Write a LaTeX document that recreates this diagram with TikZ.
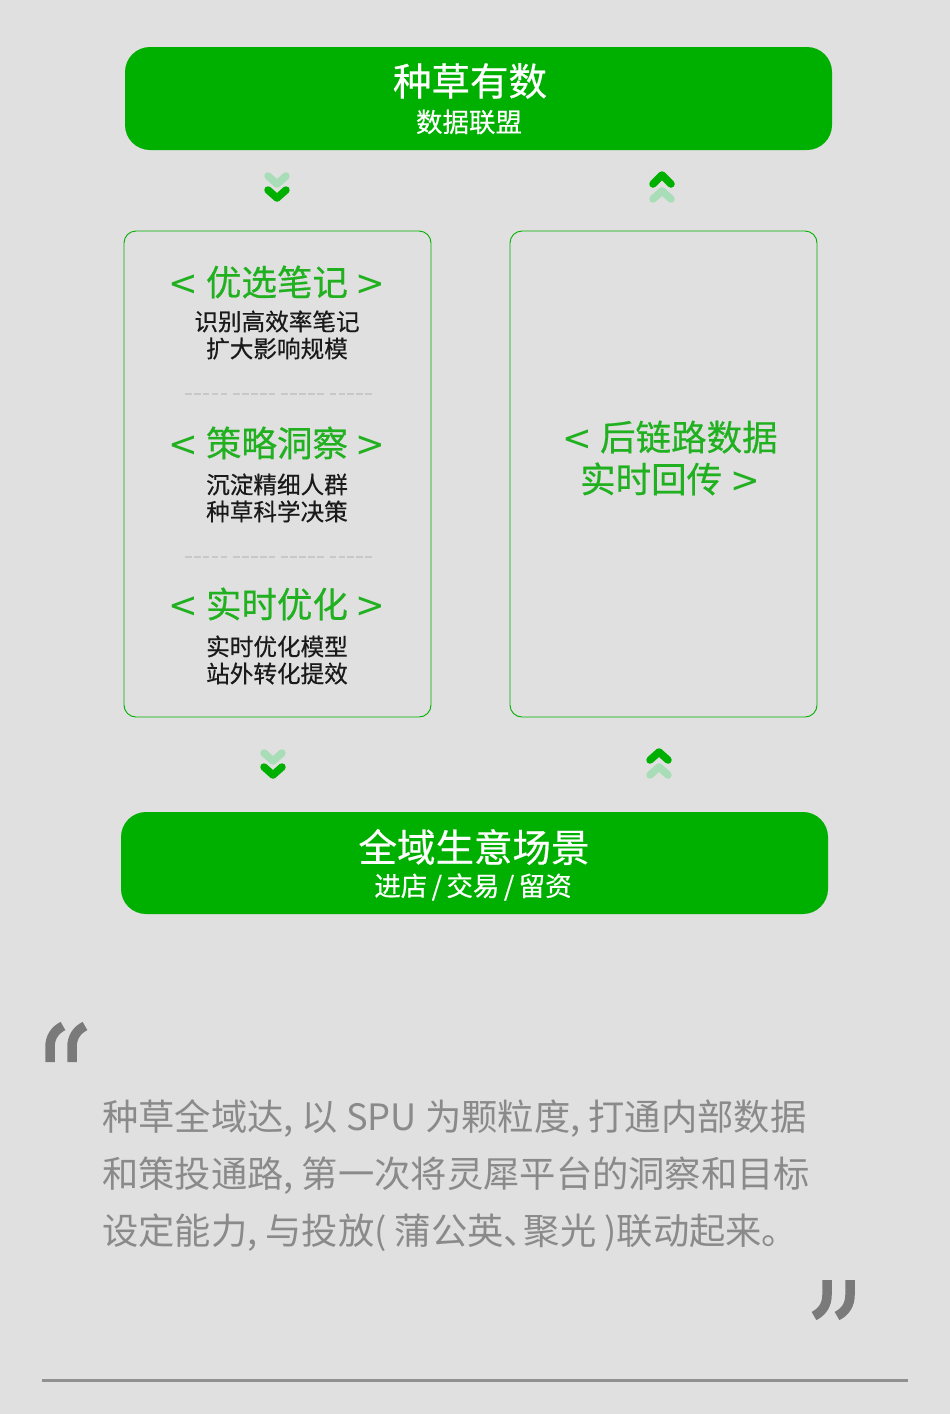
\documentclass[tikz,border=0pt]{standalone}
\usepackage{fontspec}
\setmainfont{Noto Sans CJK SC}
\newfontfamily\medfont{Noto Sans CJK SC}[FakeBold=0.5]
\newfontfamily\anglefont{DejaVu Sans}
\definecolor{bg}{HTML}{E0E0E0}
\definecolor{boxgreen}{HTML}{00B000}
\definecolor{txtgreen}{HTML}{20B020}
\definecolor{palegreen}{HTML}{A8DDB8}
\definecolor{darktxt}{HTML}{1A1A1A}
\definecolor{graytxt}{HTML}{8A8A8A}
\definecolor{quotegray}{HTML}{7A7A7A}
\definecolor{dashgray}{HTML}{C8C8C8}
\definecolor{rulegray}{HTML}{909090}
\newcommand{\lang}{{\anglefont<}}
\newcommand{\rang}{{\anglefont>}}
\tikzset{
  greenbar/.style={fill=boxgreen, draw=none, rounded corners=25pt},
  panel/.style={draw=boxgreen, line width=0.9pt, rounded corners=12pt},
  bigtitle/.style={text=white, font=\medfont\fontsize{38.5}{40}\selectfont, inner sep=0pt},
  subtitle/.style={text=white, font=\medfont\fontsize{26.5}{28}\selectfont, inner sep=0pt},
  heading/.style={text=txtgreen, font=\medfont\fontsize{35.5}{42}\selectfont, inner sep=0pt, align=center},
  bodytxt/.style={text=darktxt, font=\medfont\fontsize{23.6}{27}\selectfont, inner sep=0pt, align=center},
  chev/.style={line width=7.5pt, line cap=round, line join=round},
  chevdark/.style={chev, draw=boxgreen},
  chevpale/.style={chev, draw=palegreen},
  sep/.style={draw=dashgray, line width=2pt, dash pattern=on 6.6pt off 2.3pt on 6.6pt off 2.3pt on 6.6pt off 2.3pt on 6.6pt off 2.3pt on 6.6pt off 6pt},
  para/.style={text=graytxt, font=\fontsize{36.3}{40}\selectfont, inner sep=0pt, anchor=base west},
  qmark/.style={draw=quotegray, line width=9.5pt, line cap=butt},
}
\begin{document}
\begin{tikzpicture}[x=1pt, y=-1pt]
\useasboundingbox (0,0) rectangle (950,1414);
\fill[bg] (0,0) rectangle (950,1414);

% top bar
\path[greenbar] (125,47) rectangle (832,150);
\node[bigtitle] (t1) at (470,81) {种草有数};
\node[subtitle] (s1) at (469,122) {数据联盟};

% chevrons top
\draw[chevpale] (268,176) -- (277,184) -- (286,176);
\draw[chevdark] (268,190) -- (277,198) -- (286,190);
\draw[chevdark] (653,184) -- (662,175) -- (671,184);
\draw[chevpale] (653,199) -- (662,191) -- (671,199);

% panels
\draw[panel] (124,231) rectangle (431,717);
\draw[panel] (510,231) rectangle (817,717);

\node[heading] (h1) at (277,282) {\lang{} 优选笔记 \rang};
\node[bodytxt] (b1) at (277,335) {识别高效率笔记\\扩大影响规模};
\path[sep] (185,394) -- (372,394);
\node[heading] (h2) at (277,443) {\lang{} 策略洞察 \rang};
\node[bodytxt] (b2) at (277,498) {沉淀精细人群\\种草科学决策};
\path[sep] (185,557) -- (372,557);
\node[heading] (h3) at (277,604) {\lang{} 实时优化 \rang};
\node[bodytxt] (b3) at (277,660) {实时优化模型\\站外转化提效};

\node[heading] (h4) at (670,458) {\lang{} 后链路数据\\实时回传 \rang};

% chevrons bottom
\draw[chevpale] (264,753) -- (273,761) -- (282,753);
\draw[chevdark] (264,767) -- (273,775) -- (282,767);
\draw[chevdark] (650,760) -- (659,752) -- (668,760);
\draw[chevpale] (650,775) -- (659,767) -- (668,775);

% bottom bar
\path[greenbar] (121,812) rectangle (828,914);
\node[bigtitle] (t2) at (474,847) {全域生意场景};
\node[subtitle] (s2) at (473,887) {进店\,/\,交易\,/\,留资};

% opening quote
\draw[qmark] (50,1062) -- (50,1047) .. controls (50,1037) and (55,1030) .. (63,1026);
\draw[qmark] (72,1062) -- (72,1047) .. controls (72,1037) and (77,1030) .. (85,1026);
% paragraph
\node[para] (p1) at (102,1130) {种草全域达, 以 SPU 为颗粒度, 打通内部数据};
\node[para] (p2) at (102,1187) {和策投通路, 第一次将灵犀平台的洞察和目标};
\node[para] (p3) at (102,1244) {设定能力, 与投放( 蒲公英\makebox[20pt][l]{、}聚光 )联动起来。};
% closing quote
\draw[qmark] (827,1280) -- (827,1295) .. controls (827,1305) and (822,1312) .. (814,1316);
\draw[qmark] (850,1280) -- (850,1295) .. controls (850,1305) and (845,1312) .. (837,1316);

\draw[rulegray, line width=3pt] (42,1380) -- (908,1380);
\end{tikzpicture}
\end{document}
